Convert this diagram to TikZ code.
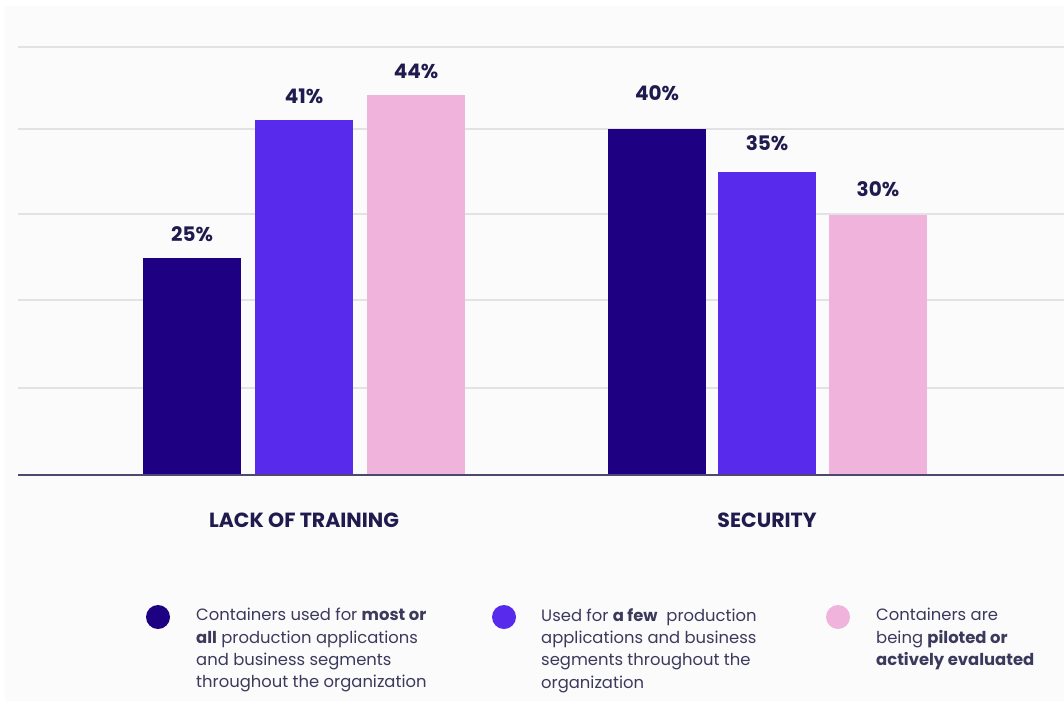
\documentclass[tikz,border=0pt]{standalone}
\usepackage{fontspec}
\setmainfont{Poppins}
\usetikzlibrary{positioning}
\definecolor{barnavy}{HTML}{1E0082}
\definecolor{barviolet}{HTML}{582BEC}
\definecolor{barpink}{HTML}{F0B3DB}
\definecolor{inkdark}{HTML}{1F1B4E}
\definecolor{inklegend}{HTML}{3C3A5C}
\definecolor{gridgray}{HTML}{E2E2E4}
\definecolor{axisgray}{HTML}{4B4A6E}
\definecolor{paper}{HTML}{FBFBFB}
\tikzstyle{bar} = [rectangle, inner sep=0pt, minimum width=98pt, anchor=south]
\tikzstyle{value} = [inner sep=0pt, anchor=south, text=inkdark, font=\fontsize{20}{24}\selectfont\bfseries]
\tikzstyle{category} = [inner sep=0pt, text=inkdark, font=\fontsize{20.5}{24}\selectfont\bfseries]
\tikzstyle{dot} = [circle, inner sep=0pt, minimum size=24pt]
\tikzstyle{legtext} = [inner sep=0pt, anchor=north west, align=left, text=inklegend, font=\fontsize{16.4}{22.4}\selectfont]

\begin{document}
\begin{tikzpicture}[x=1pt, y=-1pt]
\useasboundingbox (0,0) rectangle (1064,701);
\fill[white] (0,0) rectangle (1064,701);
\fill[paper] (5,6) rectangle (1064,701);
\draw[gridgray, line width=1.2pt] (18,47) -- (1064,47) (18,129) -- (1064,129) (18,214) -- (1064,214) (18,300) -- (1064,300) (18,388) -- (1064,388);
\node (lt1) [bar, fill=barnavy, minimum height=217pt] at (192,475) {};
\node (lt2) [bar, fill=barviolet, minimum height=355pt] at (304,475) {};
\node (lt3) [bar, fill=barpink, minimum height=380pt] at (416,475) {};
\node (sec1) [bar, fill=barnavy, minimum height=346pt] at (657,475) {};
\node (sec2) [bar, fill=barviolet, minimum height=303pt] at (767,475) {};
\node (sec3) [bar, fill=barpink, minimum height=260pt] at (878,475) {};
\draw[axisgray, line width=1.5pt] (18,475) -- (1064,475);
\node (lt1v) [value, above=16pt of lt1] {25\%};
\node (lt2v) [value, above=16pt of lt2] {41\%};
\node (lt3v) [value, above=16pt of lt3] {44\%};
\node (sec1v) [value, above=28pt of sec1] {40\%};
\node (sec2v) [value, above=21pt of sec2] {35\%};
\node (sec3v) [value, above=18pt of sec3] {30\%};
\node (ltcat) [category, below=38pt of lt2] {LACK OF TRAINING};
\node (seccat) [category, below=38pt of sec2] {SECURITY};
\node (leg1) [dot, fill=barnavy] at (158,617) {};
\node (leg2) [dot, fill=barviolet] at (504,617) {};
\node (leg3) [dot, fill=barpink] at (838,617) {};
\node (leg1t) [legtext] at (196,608) {Containers used for {\bfseries most or}\\{\bfseries all} production applications\\and business segments\\throughout the organization};
\node (leg2t) [legtext] at (541,608) {Used for {\bfseries a few}\ \ production\\applications and business\\segments throughout the\\organization};
\node (leg3t) [legtext] at (876,608) {Containers are\\being {\bfseries piloted or}\\{\bfseries actively evaluated}};
\end{tikzpicture}
\end{document}
